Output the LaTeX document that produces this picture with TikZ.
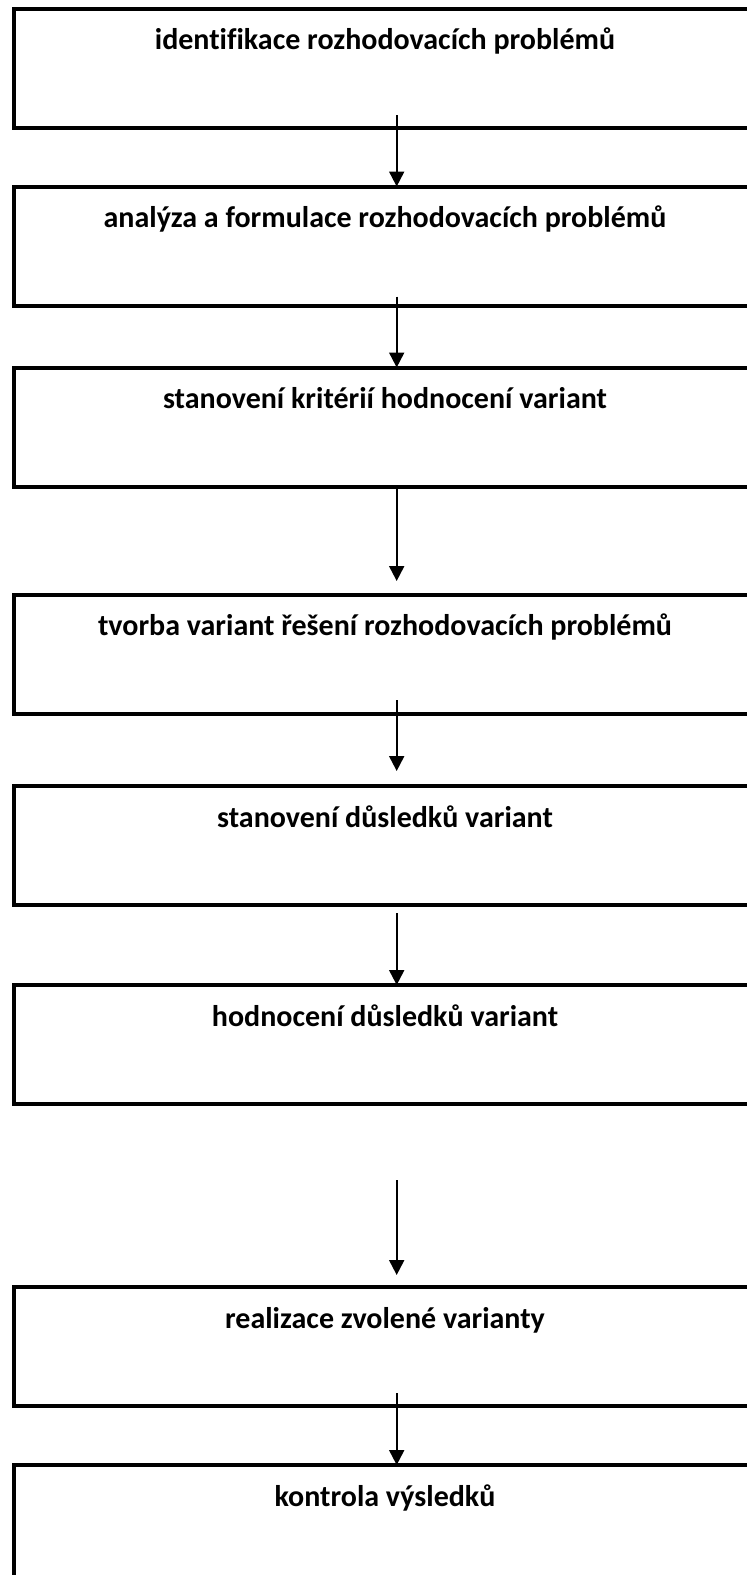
\documentclass[tikz,border=0pt]{standalone}
\usepackage{fontspec}
\setmainfont[Ligatures=NoCommon]{Carlito}
\usetikzlibrary{arrows.meta}
\begin{document}
\begin{tikzpicture}[x=1pt,y=-1pt,
  box/.style={draw=black, line width=4pt, rectangle, anchor=north west, outer sep=0pt,
    minimum width=800pt, minimum height=119pt, inner sep=0pt},
  lbl/.style={anchor=base, font=\bfseries\fontsize{30}{34}\selectfont, inner sep=0pt},
  conn/.style={line width=2pt, -{Triangle[length=15pt,width=15pt]}}]
\useasboundingbox (0,0) rectangle (747,1575);
\clip (0,0) rectangle (747,1575);
\node[box] (b1) at (13.5,8.5) {};
\node[box] (b2) at (13.5,186.5) {};
\node[box] (b3) at (13.5,367.5) {};
\node[box] (b4) at (13.5,594.5) {};
\node[box] (b5) at (13.5,786) {};
\node[box] (b6) at (13.5,985) {};
\node[box] (b7) at (13.5,1287) {};
\node[box, minimum height=300pt] (b8) at (13.5,1465) {};
\node[lbl] (t1) at (385,49.5) {identifikace rozhodovacích problémů};
\node[lbl] (t2) at (385,227.5) {analýza a formulace rozhodovacích problémů};
\node[lbl] (t3) at (385,408.5) {stanovení kritérií hodnocení variant};
\node[lbl] (t4) at (385,635.5) {tvorba variant řešení rozhodovacích problémů};
\node[lbl] (t5) at (385,827) {stanovení důsledků variant};
\node[lbl] (t6) at (385,1026) {hodnocení důsledků variant};
\node[lbl] (t7) at (385,1328) {realizace zvolené varianty};
\node[lbl] (t8) at (385,1506) {kontrola výsledků};
\coordinate (s1) at (396.7,115);
\coordinate (s2) at (396.7,296.7);
\coordinate (s3) at (396.7,486);
\coordinate (e3) at (396.7,581);
\coordinate (s4) at (396.7,700);
\coordinate (e4) at (396.7,771);
\coordinate (s5) at (396.7,913);
\coordinate (s6) at (396.7,1180);
\coordinate (e6) at (396.7,1275);
\coordinate (s7) at (396.7,1393);
\draw[conn] (s1) -- (s1 |- b2.north);
\draw[conn] (s2) -- (s2 |- b3.north);
\draw[conn] (s3) -- (e3);
\draw[conn] (s4) -- (e4);
\draw[conn] (s5) -- (s5 |- b6.north);
\draw[conn] (s6) -- (e6);
\draw[conn] (s7) -- (s7 |- b8.north);
\end{tikzpicture}
\end{document}
